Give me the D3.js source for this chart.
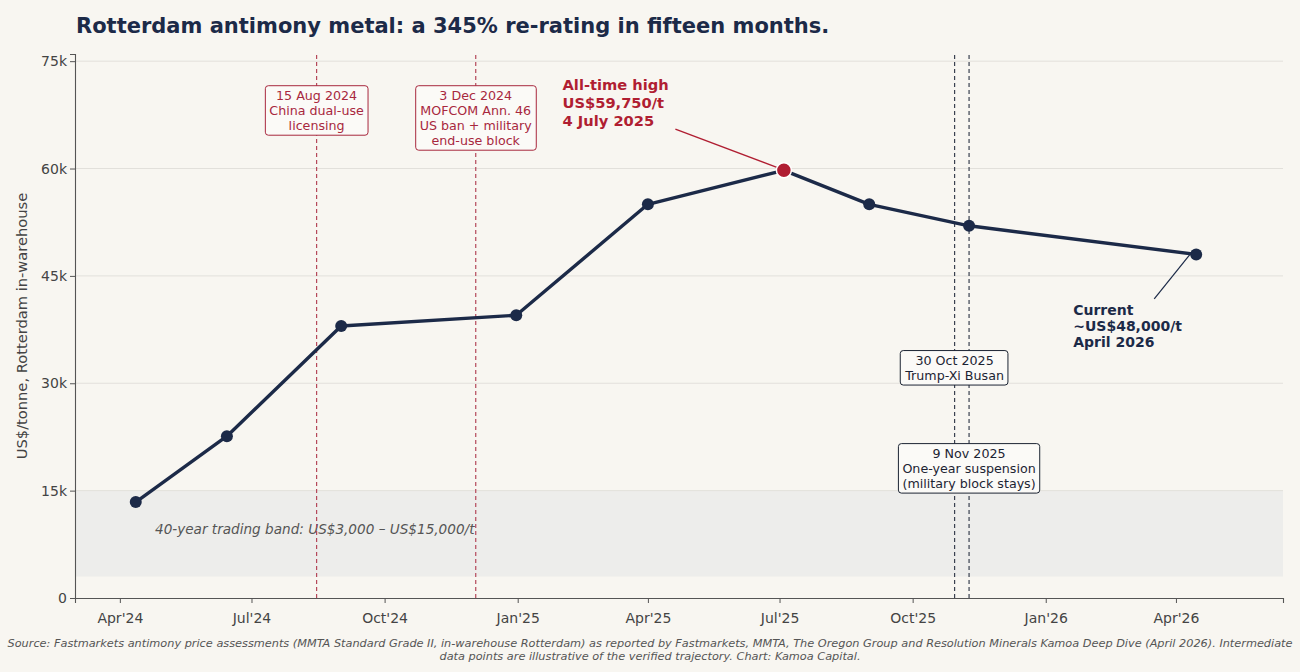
<!DOCTYPE html>
<html>
<head>
<meta charset="utf-8">
<script src="https://cdn.jsdelivr.net/npm/d3@7"></script>
<style>
  body { margin: 0; background: #f8f6f1; }
  svg { display: block; font-family: "DejaVu Sans", sans-serif; }
</style>
</head>
<body>
<svg id="chart" width="1300" height="672"></svg>
<script>
// price path (US$/t)
const dates = ["2024-04-12", "2024-06-14", "2024-09-01", "2024-12-31", "2025-04-01",
               "2025-07-04", "2025-09-01", "2025-11-09", "2026-04-15"];
const prices = [13400, 22600, 38000, 39500, 55000, 59750, 55000, 52000, 48000];

const yTicks = [0, 15000, 30000, 45000, 60000, 75000];
const xTickDates = ["2024-04-01", "2024-07-01", "2024-10-01", "2025-01-01", "2025-04-01",
                    "2025-07-01", "2025-10-01", "2026-01-01", "2026-04-01"];

// policy events
const redEvents = [
  { date: "2024-08-15", top: 71500, lines: ["15 Aug 2024", "China dual-use", "licensing"] },
  { date: "2024-12-03", top: 71500, lines: ["3 Dec 2024", "MOFCOM Ann. 46", "US ban + military", "end-use block"] }
];
const darkEvents = [
  { date: "2025-10-30", top: 34500, lines: ["30 Oct 2025", "Trump-Xi Busan"] },
  { date: "2025-11-09", top: 21500, lines: ["9 Nov 2025", "One-year suspension", "(military block stays)"] }
];

const band = [3000, 15000];

const navy = "#1c2a48";
const red = "#b01e32";
const parse = d3.utcParse("%Y-%m-%d");
const data = dates.map((d, i) => ({ date: parse(d), value: prices[i] }));

const svg = d3.select("#chart");
const margin = { left: 75, right: 17, top: 54, bottom: 74 };
const W = 1300, H = 672;

const x = d3.scaleUtc()
    .domain([parse("2024-03-01"), parse("2026-06-14")])
    .range([margin.left, W - margin.right]);
const y = d3.scaleLinear()
    .domain([0, 76000])
    .range([H - margin.bottom, margin.top]);

svg.append("rect").attr("width", W).attr("height", H).attr("fill", "#f8f6f1");

// title
svg.append("text")
    .attr("x", 76).attr("y", 33)
    .attr("font-size", 21).attr("font-weight", "bold").attr("fill", navy)
    .text("Rotterdam antimony metal: a 345% re-rating in fifteen months.");

// trading band
svg.append("rect")
    .attr("x", x.range()[0]).attr("width", x.range()[1] - x.range()[0])
    .attr("y", y(band[1])).attr("height", y(band[0]) - y(band[1]))
    .attr("fill", "#ededeb");

// grid
svg.append("g").selectAll("line").data(yTicks.slice(1)).join("line")
    .attr("x1", x.range()[0]).attr("x2", x.range()[1])
    .attr("y1", d => y(d)).attr("y2", d => y(d))
    .attr("stroke", "#e2e0db").attr("stroke-width", 1);

svg.append("text")
    .attr("x", 155).attr("y", 534)
    .attr("font-size", 13.6).attr("font-style", "italic").attr("fill", "#555")
    .text("40-year trading band: US$3,000 – US$15,000/t");

// event lines
svg.append("g").selectAll("line").data(redEvents).join("line")
    .attr("x1", d => x(parse(d.date))).attr("x2", d => x(parse(d.date)))
    .attr("y1", y.range()[0]).attr("y2", y.range()[1])
    .attr("stroke", "#b5485a").attr("stroke-width", 1.2).attr("stroke-dasharray", "4,3");
svg.append("g").selectAll("line").data(darkEvents).join("line")
    .attr("x1", d => x(parse(d.date))).attr("x2", d => x(parse(d.date)))
    .attr("y1", y.range()[0]).attr("y2", y.range()[1])
    .attr("stroke", "#3a4150").attr("stroke-width", 1.2).attr("stroke-dasharray", "4,3");

// axes
const yAxis = svg.append("g")
    .attr("transform", `translate(${margin.left},0)`)
    .call(d3.axisLeft(y).tickValues(yTicks).tickFormat(d => d === 0 ? "0" : d / 1000 + "k").tickSizeOuter(0).tickSize(5));
const xAxis = svg.append("g")
    .attr("transform", `translate(0,${H - margin.bottom})`)
    .call(d3.axisBottom(x).tickValues(xTickDates.map(parse)).tickFormat(d3.utcFormat("%b'%y")).tickSizeOuter(0).tickSize(5));
[yAxis, xAxis].forEach(g => {
  g.select(".domain").attr("stroke", "#555").attr("stroke-width", 1.1);
  g.selectAll(".tick line").attr("stroke", "#555");
  g.selectAll(".tick text").attr("font-family", "DejaVu Sans").attr("font-size", 14).attr("fill", "#444");
});
xAxis.selectAll(".tick text").attr("dy", "1.2em");

svg.append("text")
    .attr("transform", `translate(27,${(y.range()[0] + y.range()[1]) / 2}) rotate(-90)`)
    .attr("text-anchor", "middle")
    .attr("font-size", 14.67).attr("fill", "#444")
    .text("US$/tonne, Rotterdam in-warehouse");

// price line
svg.append("path")
    .datum(data)
    .attr("fill", "none")
    .attr("stroke", navy)
    .attr("stroke-width", 3.4)
    .attr("stroke-linejoin", "round")
    .attr("d", d3.line().x(d => x(d.date)).y(d => y(d.value)));

svg.append("g").selectAll("circle").data(data).join("circle")
    .attr("cx", d => x(d.date)).attr("cy", d => y(d.value))
    .attr("r", 6).attr("fill", navy);

// event boxes
function boxLabel(ev, color) {
  const g = svg.append("g");
  const cx = x(parse(ev.date));
  const t = g.append("text")
      .attr("text-anchor", "middle")
      .attr("font-size", 12.67).attr("fill", color);
  ev.lines.forEach((l, i) => {
    t.append("tspan").attr("x", cx).attr("y", y(ev.top) + 13.5 + i * 15).text(l);
  });
  const bb = t.node().getBBox();
  g.insert("rect", "text")
      .attr("x", bb.x - 4).attr("y", y(ev.top) - 0.5)
      .attr("width", bb.width + 8).attr("height", ev.lines.length * 15 + 4.5)
      .attr("rx", 3)
      .attr("fill", "#fbfaf7").attr("stroke", color).attr("stroke-width", 1);
}
redEvents.forEach(ev => boxLabel(ev, "#a8283e"));
darkEvents.forEach(ev => boxLabel(ev, "#1c2433"));

// all-time high
const peak = data[5];
svg.append("line")
    .attr("x1", x(parse("2025-04-20"))).attr("y1", y(65500))
    .attr("x2", x(peak.date) - 7).attr("y2", y(peak.value) - 3)
    .attr("stroke", red).attr("stroke-width", 1.4);
svg.append("circle")
    .attr("cx", x(peak.date)).attr("cy", y(peak.value))
    .attr("r", 7.5).attr("fill", red).attr("stroke", "#fff").attr("stroke-width", 1.5);
const ath = svg.append("text")
    .attr("font-size", 14.67).attr("font-weight", "bold").attr("fill", red);
["All-time high", "US$59,750/t", "4 July 2025"].forEach((l, i) => {
  ath.append("tspan").attr("x", x(parse("2025-02-01"))).attr("y", 90 + i * 18).text(l);
});

// current
const last = data[data.length - 1];
svg.append("line")
    .attr("x1", x(parse("2026-03-17"))).attr("y1", y(41800))
    .attr("x2", x(last.date) - 3).attr("y2", y(last.value) - 4)
    .attr("stroke", navy).attr("stroke-width", 1.2);
const cur = svg.append("text")
    .attr("font-size", 14).attr("font-weight", "bold").attr("fill", navy);
["Current", "~US$48,000/t", "April 2026"].forEach((l, i) => {
  cur.append("tspan").attr("x", x(parse("2026-01-20"))).attr("y", 315 + i * 16).text(l);
});

// footer
const foot = svg.append("text")
    .attr("text-anchor", "middle")
    .attr("font-size", 11.3).attr("font-style", "italic").attr("fill", "#555");
["Source: Fastmarkets antimony price assessments (MMTA Standard Grade II, in-warehouse Rotterdam) as reported by Fastmarkets, MMTA, The Oregon Group and Resolution Minerals Kamoa Deep Dive (April 2026). Intermediate",
 "data points are illustrative of the verified trajectory. Chart: Kamoa Capital."].forEach((l, i) => {
  foot.append("tspan").attr("x", 650).attr("y", 647 + i * 13).text(l);
});
</script>
</body>
</html>
